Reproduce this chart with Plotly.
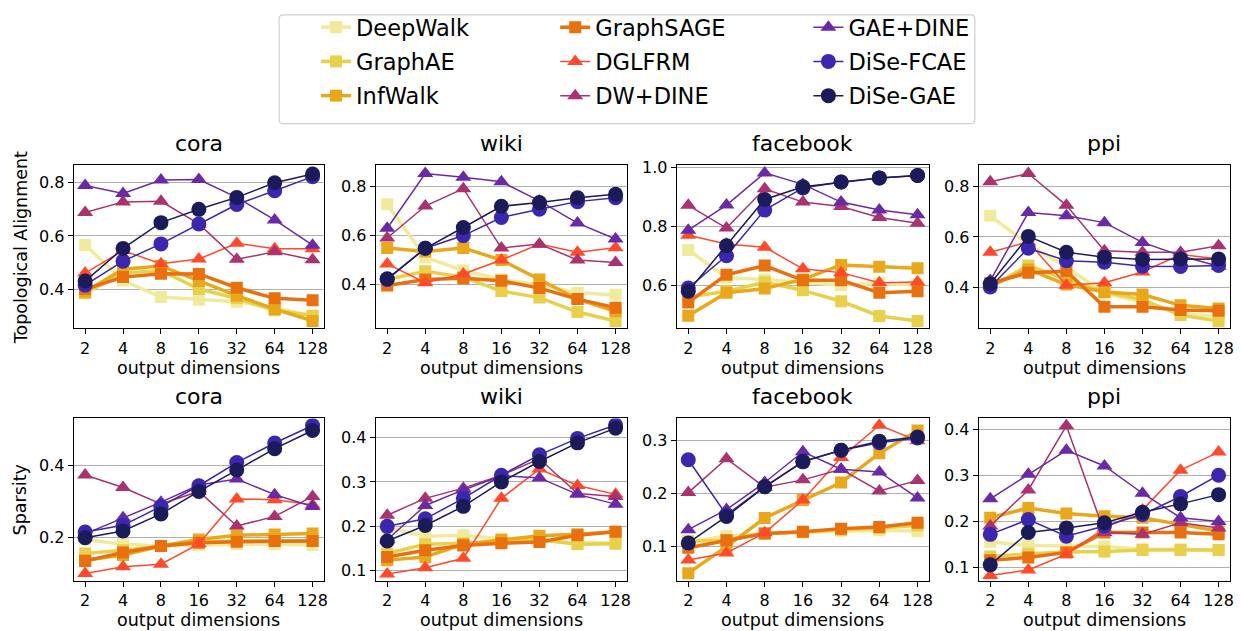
import re
import plotly.graph_objects as go

# Output embedding dimensions (x axis categories)
dims = ["2", "4", "8", "16", "32", "64", "128"]

methods = ["DeepWalk", "GraphAE", "InfWalk", "GraphSAGE", "DGLFRM",
           "DW+DINE", "GAE+DINE", "DiSe-FCAE", "DiSe-GAE"]
colors = ["#f0eb9c", "#e9d04c", "#e9a81c", "#e8700f", "#ff4a2c",
          "#a8336e", "#6a2aa6", "#3b27ae", "#1c1b5a"]
markers = ["square"] * 4 + ["triangle-up"] * 3 + ["circle"] * 2
datasets = ["cora", "wiki", "facebook", "ppi"]

# Topological alignment per dataset, one list per method
topo_cora = [
    [0.566, 0.432, 0.370, 0.360, 0.352, 0.330, 0.300],
    [0.385, 0.460, 0.470, 0.400, 0.365, 0.320, 0.300],
    [0.390, 0.475, 0.487, 0.430, 0.375, 0.325, 0.280],
    [0.400, 0.445, 0.458, 0.457, 0.405, 0.365, 0.358],
    [0.460, 0.545, 0.495, 0.513, 0.572, 0.552, 0.552],
    [0.688, 0.728, 0.730, 0.645, 0.512, 0.540, 0.510],
    [0.790, 0.760, 0.810, 0.812, 0.745, 0.660, 0.565],
    [0.415, 0.505, 0.570, 0.645, 0.718, 0.770, 0.823],
    [0.430, 0.553, 0.650, 0.700, 0.745, 0.800, 0.833],
]
topo_wiki = [
    [0.728, 0.511, 0.457, 0.420, 0.400, 0.365, 0.358],
    [0.420, 0.454, 0.430, 0.373, 0.346, 0.287, 0.250],
    [0.549, 0.535, 0.549, 0.500, 0.420, 0.340, 0.290],
    [0.396, 0.420, 0.425, 0.415, 0.385, 0.340, 0.305],
    [0.484, 0.407, 0.443, 0.500, 0.565, 0.532, 0.550],
    [0.590, 0.721, 0.792, 0.549, 0.565, 0.500, 0.490],
    [0.630, 0.854, 0.839, 0.820, 0.742, 0.651, 0.586],
    [0.420, 0.548, 0.600, 0.674, 0.708, 0.739, 0.755],
    [0.423, 0.548, 0.633, 0.720, 0.735, 0.755, 0.769],
]
topo_facebook = [
    [0.720, 0.626, 0.620, 0.611, 0.600, 0.606, 0.602],
    [0.560, 0.580, 0.610, 0.583, 0.546, 0.496, 0.479],
    [0.497, 0.575, 0.589, 0.620, 0.669, 0.663, 0.658],
    [0.542, 0.636, 0.667, 0.617, 0.617, 0.575, 0.580],
    [0.770, 0.740, 0.729, 0.656, 0.643, 0.609, 0.611],
    [0.871, 0.794, 0.927, 0.882, 0.867, 0.830, 0.810],
    [0.787, 0.872, 0.981, 0.942, 0.882, 0.855, 0.839],
    [0.591, 0.700, 0.855, 0.930, 0.950, 0.964, 0.972],
    [0.580, 0.734, 0.891, 0.934, 0.950, 0.964, 0.972],
]
topo_ppi = [
    [0.684, 0.570, 0.480, 0.375, 0.340, 0.295, 0.280],
    [0.400, 0.486, 0.430, 0.380, 0.350, 0.288, 0.264],
    [0.405, 0.470, 0.410, 0.380, 0.370, 0.327, 0.314],
    [0.415, 0.457, 0.463, 0.321, 0.321, 0.308, 0.305],
    [0.539, 0.580, 0.407, 0.417, 0.460, 0.530, 0.512],
    [0.820, 0.853, 0.726, 0.545, 0.539, 0.539, 0.565],
    [0.426, 0.697, 0.684, 0.657, 0.578, 0.525, 0.483],
    [0.400, 0.555, 0.505, 0.499, 0.483, 0.482, 0.486],
    [0.413, 0.602, 0.539, 0.519, 0.510, 0.512, 0.512],
]

# Sparsity per dataset, one list per method
sparse_cora = [
    [0.193, 0.180, 0.175, 0.178, 0.180, 0.180, 0.178],
    [0.154, 0.163, 0.175, 0.185, 0.190, 0.190, 0.190],
    [0.135, 0.150, 0.175, 0.193, 0.205, 0.207, 0.210],
    [0.133, 0.157, 0.175, 0.184, 0.187, 0.189, 0.189],
    [0.098, 0.117, 0.124, 0.181, 0.307, 0.305, 0.291],
    [0.374, 0.339, 0.293, 0.328, 0.231, 0.258, 0.314],
    [0.209, 0.254, 0.298, 0.346, 0.363, 0.319, 0.286],
    [0.214, 0.233, 0.286, 0.344, 0.409, 0.464, 0.513],
    [0.198, 0.217, 0.265, 0.328, 0.388, 0.448, 0.499],
]
sparse_wiki = [
    [0.197, 0.178, 0.180, 0.172, 0.168, 0.163, 0.163],
    [0.139, 0.160, 0.162, 0.165, 0.170, 0.160, 0.161],
    [0.124, 0.131, 0.160, 0.170, 0.179, 0.182, 0.188],
    [0.131, 0.146, 0.157, 0.162, 0.165, 0.180, 0.188],
    [0.093, 0.107, 0.128, 0.263, 0.329, 0.292, 0.272],
    [0.225, 0.263, 0.286, 0.315, 0.352, 0.274, 0.267],
    [0.170, 0.247, 0.282, 0.314, 0.309, 0.272, 0.250],
    [0.200, 0.217, 0.263, 0.315, 0.361, 0.398, 0.428],
    [0.167, 0.202, 0.245, 0.300, 0.346, 0.388, 0.421],
]
sparse_facebook = [
    [0.109, 0.120, 0.125, 0.127, 0.130, 0.131, 0.129],
    [0.110, 0.112, 0.125, 0.127, 0.132, 0.135, 0.140],
    [0.050, 0.100, 0.154, 0.188, 0.221, 0.276, 0.319],
    [0.098, 0.112, 0.125, 0.128, 0.134, 0.137, 0.145],
    [0.075, 0.088, 0.126, 0.188, 0.268, 0.329, 0.300],
    [0.202, 0.266, 0.212, 0.226, 0.246, 0.205, 0.225],
    [0.132, 0.170, 0.221, 0.279, 0.246, 0.241, 0.192],
    [0.264, 0.160, 0.213, 0.260, 0.282, 0.296, 0.305],
    [0.107, 0.157, 0.213, 0.261, 0.282, 0.299, 0.307],
]
sparse_ppi = [
    [0.156, 0.148, 0.147, 0.146, 0.140, 0.140, 0.138],
    [0.124, 0.130, 0.134, 0.135, 0.138, 0.138, 0.138],
    [0.208, 0.229, 0.217, 0.211, 0.208, 0.193, 0.179],
    [0.116, 0.122, 0.133, 0.176, 0.176, 0.176, 0.172],
    [0.083, 0.095, 0.129, 0.185, 0.225, 0.311, 0.350],
    [0.190, 0.268, 0.407, 0.176, 0.172, 0.197, 0.186],
    [0.249, 0.302, 0.354, 0.320, 0.261, 0.208, 0.200],
    [0.172, 0.204, 0.168, 0.190, 0.215, 0.254, 0.300],
    [0.106, 0.176, 0.186, 0.197, 0.220, 0.238, 0.258],
]

topo_tables = [topo_cora, topo_wiki, topo_facebook, topo_ppi]
sparse_tables = [sparse_cora, sparse_wiki, sparse_facebook, sparse_ppi]

topo_ranges = [[0.252, 0.866], [0.22, 0.888], [0.454, 1.007], [0.235, 0.886]]
sparse_ranges = [[0.078, 0.533], [0.078, 0.443], [0.036, 0.342], [0.072, 0.423]]
topo_ticks = [[0.4, 0.6, 0.8], [0.4, 0.6, 0.8], [0.6, 0.8, 1.0], [0.4, 0.6, 0.8]]
sparse_ticks = [[0.2, 0.4], [0.1, 0.2, 0.3, 0.4], [0.1, 0.2, 0.3], [0.1, 0.2, 0.3, 0.4]]

W, H = 1242, 631
col_px = [(74, 325), (377, 629), (679, 932), (982, 1234)]
row_px = [(160, 325), (416, 580)]

FONT = "DejaVu Sans"


def px_x(v):
    return v / W


def px_y(v):
    return 1 - v / H


fig = go.Figure()
layout = dict(
    width=W, height=H, margin=dict(l=0, r=0, t=0, b=0),
    paper_bgcolor="white", plot_bgcolor="white",
    font=dict(family=FONT, color="black", size=16),
    showlegend=True,
)
annotations = []
legend_cols = ["legend", "legend2", "legend3"]

for r, (tables, ranges, ticks) in enumerate(
        [(topo_tables, topo_ranges, topo_ticks), (sparse_tables, sparse_ranges, sparse_ticks)]):
    for c in range(4):
        idx = r * 4 + c + 1
        xname = "xaxis" if idx == 1 else f"xaxis{idx}"
        yname = "yaxis" if idx == 1 else f"yaxis{idx}"
        xref = "x" if idx == 1 else f"x{idx}"
        yref = "y" if idx == 1 else f"y{idx}"
        x0, x1 = col_px[c]
        y0, y1 = row_px[r]
        layout[xname] = dict(
            domain=[px_x(x0), px_x(x1)], anchor=yref, type="category",
            categoryorder="array", categoryarray=dims, range=[-0.3, 6.3],
            showline=True, mirror=True, linecolor="black", linewidth=1.2,
            ticks="outside", ticklen=5, tickcolor="black", showgrid=False,
            tickfont=dict(size=16), zeroline=False,
        )
        layout[yname] = dict(
            domain=[px_y(y1), px_y(y0)], anchor=xref, range=ranges[c],
            tickvals=ticks[c], tickformat=".1f",
            showline=True, mirror=True, linecolor="black", linewidth=1.2,
            ticks="outside", ticklen=5, tickcolor="black",
            showgrid=True, gridcolor="#b0b0b0", gridwidth=1,
            tickfont=dict(size=16), zeroline=False,
        )
        table = tables[c]
        for m, name in enumerate(methods):
            is_square = markers[m] == "square"
            msize = 12 if is_square else (15 if markers[m] == "circle" else 14)
            fig.add_trace(go.Scatter(
                x=dims, y=table[m], mode="lines+markers", name=name,
                xaxis=xref, yaxis=yref,
                line=dict(color=colors[m], width=3.5 if is_square else 1.5),
                marker=dict(symbol=markers[m], size=msize, color=colors[m],
                            line=dict(width=0)),
                legendgroup=name, legend=legend_cols[m // 3],
                showlegend=(idx == 1),
            ))
        # panel title
        annotations.append(dict(
            text=datasets[c], x=px_x((x0 + x1) / 2), y=px_y(y0 - 22),
            xref="paper", yref="paper", showarrow=False,
            xanchor="center", yanchor="middle", font=dict(size=22),
        ))
        annotations.append(dict(
            text="output dimensions", x=px_x((x0 + x1) / 2), y=px_y(y1 + 40),
            xref="paper", yref="paper", showarrow=False,
            xanchor="center", yanchor="middle", font=dict(size=17.5),
        ))

annotations.append(dict(
    text="Topological Alignment", x=px_x(21), y=px_y(243), xref="paper", yref="paper",
    showarrow=False, textangle=-90, xanchor="center", yanchor="middle", font=dict(size=17.5),
))
annotations.append(dict(
    text="Sparsity", x=px_x(21), y=px_y(498), xref="paper", yref="paper",
    showarrow=False, textangle=-90, xanchor="center", yanchor="middle", font=dict(size=17.5),
))
layout["annotations"] = annotations

# three legend columns inside one framed box
leg_x = [317, 557, 811]
for i, ln in enumerate(legend_cols):
    layout[ln] = dict(
        x=px_x(leg_x[i]), y=px_y(-1), xanchor="left", yanchor="top",
        orientation="v", traceorder="grouped", tracegroupgap=2,
        bgcolor="rgba(0,0,0,0)", borderwidth=0, font=dict(size=22.5),
        itemwidth=30,
    )

fig.update_layout(**layout)

# rounded frame around the legend, given in pixels and converted to paper units
lx0, lx1, ly0, ly1, rad = 280, 978, 8, 118, 4
path_px = (f"M {lx0 + rad} {ly0} L {lx1 - rad} {ly0} Q {lx1} {ly0} {lx1} {ly0 + rad} "
           f"L {lx1} {ly1 - rad} Q {lx1} {ly1} {lx1 - rad} {ly1} L {lx0 + rad} {ly1} "
           f"Q {lx0} {ly1} {lx0} {ly1 - rad} L {lx0} {ly0 + rad} Q {lx0} {ly0} {lx0 + rad} {ly0} Z")
tokens = re.findall(r"[MLQZ]|-?\d+\.?\d*", path_px)
out = []
i = 0
while i < len(tokens):
    t = tokens[i]
    if t in "MLQZ":
        out.append(t)
        i += 1
    else:
        out.append(f"{px_x(float(tokens[i])):.5f},{px_y(float(tokens[i + 1])):.5f}")
        i += 2
fig.add_shape(type="path", xref="paper", yref="paper", path=" ".join(out),
              line=dict(color="#d0d0d0", width=1.2), layer="below")

fig.write_html("out.html")
